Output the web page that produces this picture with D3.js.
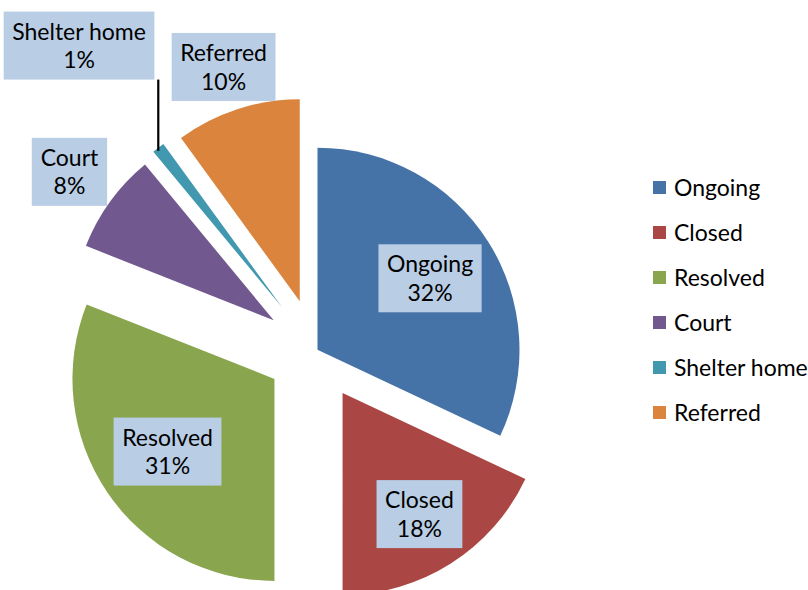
<!DOCTYPE html>
<html>
<head>
<meta charset="utf-8">
<script src="https://cdn.jsdelivr.net/npm/d3@7/dist/d3.min.js"></script>
<style>
  html, body { margin: 0; padding: 0; background: #fff; }
  svg { display: block; }
  text { font-family: Lato, "Open Sans", sans-serif; fill: #000; }
</style>
</head>
<body>
<svg id="chart" width="808" height="590"></svg>
<script>
const categories = ["Ongoing", "Closed", "Resolved", "Court", "Shelter home", "Referred"];
const values = [32, 18, 31, 8, 1, 10];
const colors = ["#4572A7", "#AA4643", "#89A54E", "#71588F", "#4198AF", "#DB843D"];
const explodePx = [2, 50, 50, 52, 55, 52];
const labelRadius = [0.66, 0.71, 0.64, 1.25, 1.64, 1.22];

const W = 808, H = 590;
const cx = 315.8, cy = 350.8, R = 202;
const fontSize = 23;

const svg = d3.select("#chart");
const total = d3.sum(values);
const pie = d3.pie().sort(null).value(d => d).startAngle(0).endAngle(2 * Math.PI);
const arcs = pie(values);
const arcGen = d3.arc().innerRadius(0).outerRadius(R);

const g = svg.append("g").attr("transform", `translate(${cx},${cy})`);

function dirOf(a) {
  const m = (a.startAngle + a.endAngle) / 2;
  return [Math.sin(m), -Math.cos(m)];
}

g.selectAll("path.slice")
  .data(arcs)
  .join("path")
  .attr("class", "slice")
  .attr("fill", (d, i) => colors[i])
  .attr("transform", (d, i) => {
    const [dx, dy] = dirOf(d);
    return `translate(${dx * explodePx[i]},${dy * explodePx[i]})`;
  })
  .attr("d", arcGen);

// labels
const labelG = g.append("g");
arcs.forEach((d, i) => {
  const [dx, dy] = dirOf(d);
  const ax = dx * explodePx[i], ay = dy * explodePx[i];
  const lx = ax + dx * R * labelRadius[i];
  const ly = ay + dy * R * labelRadius[i];
  const pct = Math.round(values[i] / total * 100) + "%";
  const grp = labelG.append("g");
  const rect = grp.append("rect").attr("fill", "#B9CDE5");
  const t = grp.append("text")
    .attr("text-anchor", "middle")
    .style("font-size", fontSize + "px");
  t.append("tspan").attr("x", lx).attr("y", ly - 14).attr("dy", "0.35em").text(categories[i]);
  t.append("tspan").attr("x", lx).attr("y", ly + 14.5).attr("dy", "0.35em").text(pct);
  const bb = t.node().getBBox();
  const bw = bb.width + 17, bh = 68;
  rect.attr("x", lx - bw / 2).attr("y", ly - bh / 2).attr("width", bw).attr("height", bh);
  if (labelRadius[i] > 1.5) {
    const ox = ax + dx * R, oy = ay + dy * R;
    labelG.append("line")
      .attr("x1", ox).attr("y1", ly + bh / 2)
      .attr("x2", ox).attr("y2", oy + 3)
      .attr("stroke", "#000").attr("stroke-width", 2.2);
  }
});

// legend
const legend = svg.append("g").attr("transform", "translate(653,181)");
const rowStep = 45;
categories.forEach((c, i) => {
  const row = legend.append("g").attr("transform", `translate(0,${i * rowStep})`);
  row.append("rect").attr("width", 13).attr("height", 13).attr("fill", colors[i]);
  row.append("text").attr("x", 21).attr("y", 6.5).attr("dy", "0.35em")
    .style("font-size", fontSize + "px").text(c);
});
</script>
</body>
</html>
